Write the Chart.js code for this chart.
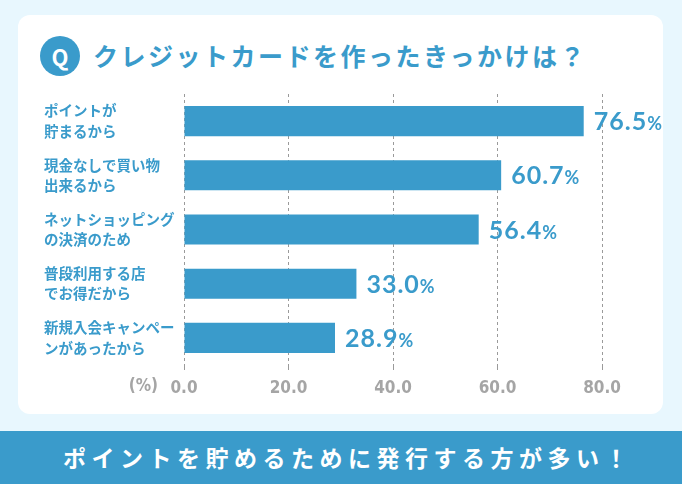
<!DOCTYPE html>
<html>
<head>
<meta charset="utf-8">
<script src="https://cdn.jsdelivr.net/npm/chart.js@4"></script>
<style>
body { margin: 0; width: 682px; height: 484px; background: #e8f7fe; position: relative; overflow: hidden; font-family: 'Noto Sans CJK JP', sans-serif; }
#card { position: absolute; left: 18px; top: 15px; width: 645px; height: 399px; background: #fff; border-radius: 12px; }
#q { position: absolute; left: 40px; top: 36px; width: 40px; height: 40px; border-radius: 50%; background: #3a9bcb; color: #fff; font: bold 22px 'Noto Sans CJK JP', sans-serif; text-align: center; line-height: 40px; }
#titulo { position: absolute; left: 93px; top: 37px; color: #3a9bcb; font: bold 25px 'Noto Sans CJK JP', sans-serif; letter-spacing: 2.5px; line-height: 36px; }
#banner { position: absolute; left: 0; top: 431px; width: 682px; height: 53px; background: #3a9bcb; color: #fff; font: bold 23px 'Noto Sans CJK JP', sans-serif; letter-spacing: 5.5px; text-align: center; text-indent: 14px; line-height: 53px; }
#grafica { position: absolute; left: 0; top: 0; }
</style>
</head>
<body>
<div id="card"></div>
<div id="q">Q</div>
<div id="titulo">クレジットカードを作ったきっかけは？</div>
<div id="banner">ポイントを貯めるために発行する方が多い！</div>
<canvas id="grafica" width="682" height="484"></canvas>
<script>
var motivos = [
    ['ポイントが', '貯まるから'],
    ['現金なしで買い物', '出来るから'],
    ['ネットショッピング', 'の決済のため'],
    ['普段利用する店', 'でお得だから'],
    ['新規入会キャンペー', 'ンがあったから']
];
var porcentajes = [76.5, 60.7, 56.4, 33.0, 28.9];
var marcas_x = [0, 20, 40, 60, 80];

var azul = '#3a9bcb';
var gris = '#a5a5a5';
var fuente_num = "'Liberation Sans Narrow', 'DejaVu Sans Condensed', sans-serif";

// etiquetas de valor al final de cada barra
var etiquetas = {
    id: 'etiquetas',
    afterDatasetsDraw: function(chart) {
        var ctx = chart.ctx;
        var meta = chart.getDatasetMeta(0);
        ctx.save();
        ctx.fillStyle = azul;
        ctx.textBaseline = 'alphabetic';
        ctx.textAlign = 'left';
        ctx.letterSpacing = '1px';
        meta.data.forEach(function(barra, i) {
            var texto = porcentajes[i].toFixed(1);
            var x = barra.x + 10;
            var y = barra.y + 9;
            ctx.font = "bold 25px Lato, sans-serif";
            ctx.fillText(texto, x, y);
            var ancho = ctx.measureText(texto).width;
            ctx.font = "bold 18px Lato, sans-serif";
            ctx.fillText('%', x + ancho, y);
        });
        ctx.letterSpacing = '0px';
        // unidad del eje
        ctx.fillStyle = gris;
        ctx.font = "bold 17px " + fuente_num;
        ctx.textAlign = 'right';
        ctx.textBaseline = 'middle';
        ctx.fillText('(%)', 158, 387);
        ctx.restore();
    }
};

const ctx = document.getElementById('grafica');
const myChart = new Chart(ctx, {
    type: 'bar',
    data: {
        labels: motivos,
        datasets: [{
            data: porcentajes,
            backgroundColor: azul,
            borderWidth: 0,
            categoryPercentage: 1,
            barPercentage: 0.555
        }]
    },
    options: {
        indexAxis: 'y',
        responsive: false,
        animation: false,
        events: [],
        layout: { padding: { left: 44, top: 94, right: 80, bottom: 79 } },
        plugins: {
            legend: { display: false },
            tooltip: { enabled: false }
        },
        scales: {
            x: {
                min: 0,
                max: 80,
                afterFit: function(scale) { scale.height = 40; },
                afterBuildTicks: function(scale) {
                    scale.ticks = marcas_x.map(function(v) { return { value: v }; });
                },
                ticks: {
                    color: gris,
                    padding: 8,
                    font: { family: fuente_num, size: 17, weight: 'bold' },
                    callback: function(v) { return v.toFixed(1); }
                },
                grid: { color: '#9a9a9a', lineWidth: 1, tickLength: 5 },
                border: { display: false, dash: [3, 3] }
            },
            y: {
                afterFit: function(scale) { scale.width = 140; },
                ticks: {
                    crossAlign: 'far',
                    color: azul,
                    font: { family: "'Noto Sans CJK JP', sans-serif", size: 14.5, weight: 'bold', lineHeight: 1.4 }
                },
                grid: { display: false },
                border: { display: false }
            }
        }
    },
    plugins: [etiquetas]
});
</script>
</body>
</html>
